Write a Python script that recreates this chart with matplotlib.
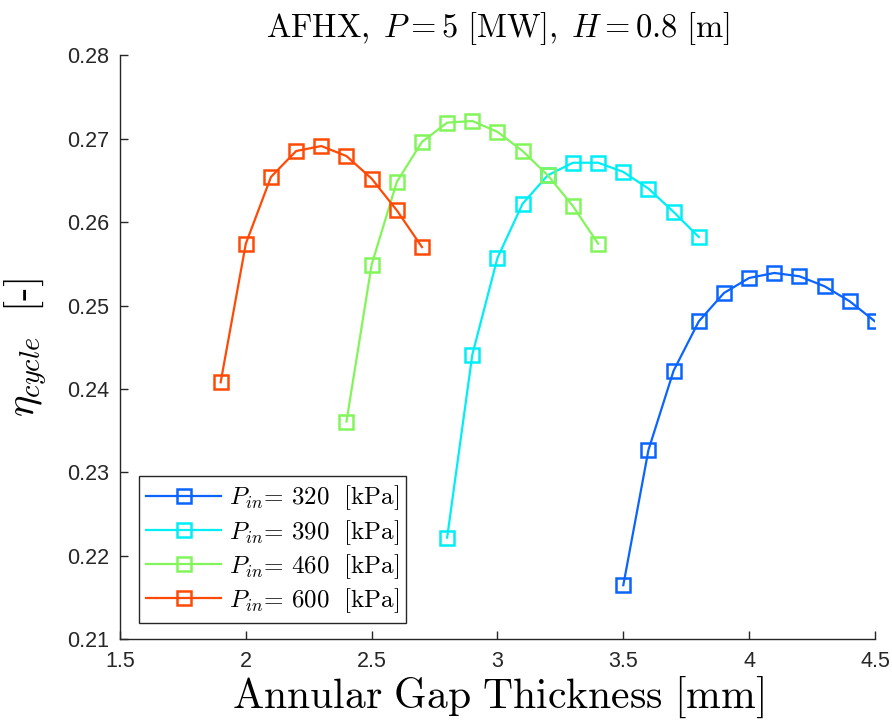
"""Cycle efficiency vs annular gap thickness, one curve per inlet pressure."""
import matplotlib
matplotlib.use("Agg")
import matplotlib.pyplot as plt

plt.rcParams["mathtext.fontset"] = "cm"

# data
gap_320 = [3.5, 3.6, 3.7, 3.8, 3.9, 4.0, 4.1, 4.2, 4.3, 4.4, 4.5]
eta_320 = [0.2165, 0.2327, 0.2422, 0.2481, 0.2515, 0.2533, 0.2539, 0.2535,
           0.2523, 0.2505, 0.2481]

gap_390 = [2.8, 2.9, 3.0, 3.1, 3.2, 3.3, 3.4, 3.5, 3.6, 3.7, 3.8]
eta_390 = [0.2222, 0.2441, 0.2557, 0.2622, 0.2656, 0.2671, 0.2671, 0.2660,
           0.2640, 0.2612, 0.2582]

gap_460 = [2.4, 2.5, 2.6, 2.7, 2.8, 2.9, 3.0, 3.1, 3.2, 3.3, 3.4]
eta_460 = [0.2361, 0.2549, 0.2648, 0.2696, 0.2719, 0.2721, 0.2708, 0.2685,
           0.2656, 0.2619, 0.2574]

gap_600 = [1.9, 2.0, 2.1, 2.2, 2.3, 2.4, 2.5, 2.6, 2.7]
eta_600 = [0.2408, 0.2574, 0.2654, 0.2685, 0.2691, 0.2679, 0.2652, 0.2614,
           0.2570]

pressures = ["320", "390", "460", "600"]
colors = ["#0A64FF", "#00EEF5", "#82F55A", "#FF4A05"]

xticks = [1.5, 2.0, 2.5, 3.0, 3.5, 4.0, 4.5]
xtick_labels = ["1.5", "2", "2.5", "3", "3.5", "4", "4.5"]
yticks = [0.21, 0.22, 0.23, 0.24, 0.25, 0.26, 0.27, 0.28]
ytick_labels = ["0.21", "0.22", "0.23", "0.24", "0.25", "0.26", "0.27", "0.28"]

fig = plt.figure(figsize=(8.92, 7.27), dpi=100)
ax = fig.add_axes([0.1345, 0.1204, 0.8464, 0.8039])

series = [(gap_320, eta_320), (gap_390, eta_390),
          (gap_460, eta_460), (gap_600, eta_600)]
for (x, y), p, c in zip(series, pressures, colors):
    ax.plot(x, y, color=c, linewidth=1.6, marker="s", markersize=10,
            markerfacecolor="none", markeredgewidth=1.8,
            label=rf"$P_{{in}}\!=\,{p}\ \ \mathrm{{[kPa]}}$")

ax.set_xlim(1.5, 4.5)
ax.set_ylim(0.21, 0.28)
ax.set_xticks(xticks)
ax.set_xticklabels(xtick_labels)
ax.set_yticks(yticks)
ax.set_yticklabels(ytick_labels)

dark = "#262626"
for side in ("top", "right"):
    ax.spines[side].set_visible(False)
for side in ("left", "bottom"):
    ax.spines[side].set_color(dark)
    ax.spines[side].set_linewidth(1.0)
ax.tick_params(direction="in", length=6, width=1.0, colors=dark,
               labelsize=15.5, pad=8)
for lab in ax.get_xticklabels() + ax.get_yticklabels():
    lab.set_family("Liberation Sans")

ax.set_title(r"$\mathrm{AFHX,}\;P = 5\ \mathrm{[MW]},\;H = 0.8\ \mathrm{[m]}$",
             fontsize=23.5, pad=13)
ax.set_xlabel(r"$\mathrm{Annular\ Gap\ Thickness\ [mm]}$", fontsize=30,
              labelpad=2)
ax.set_ylabel(r"$\eta_{cycle}\ \ \text{[-]}$", fontsize=29, labelpad=12)

leg = ax.legend(loc="lower left", bbox_to_anchor=(0.025, 0.029),
                borderaxespad=0, fontsize=18, fancybox=False, framealpha=1,
                edgecolor=dark, handlelength=3.0, handletextpad=0.3,
                labelspacing=0.22, borderpad=0.3)
leg.get_frame().set_linewidth(1.0)

fig.savefig("out.png", dpi=100)
plt.close(fig)
